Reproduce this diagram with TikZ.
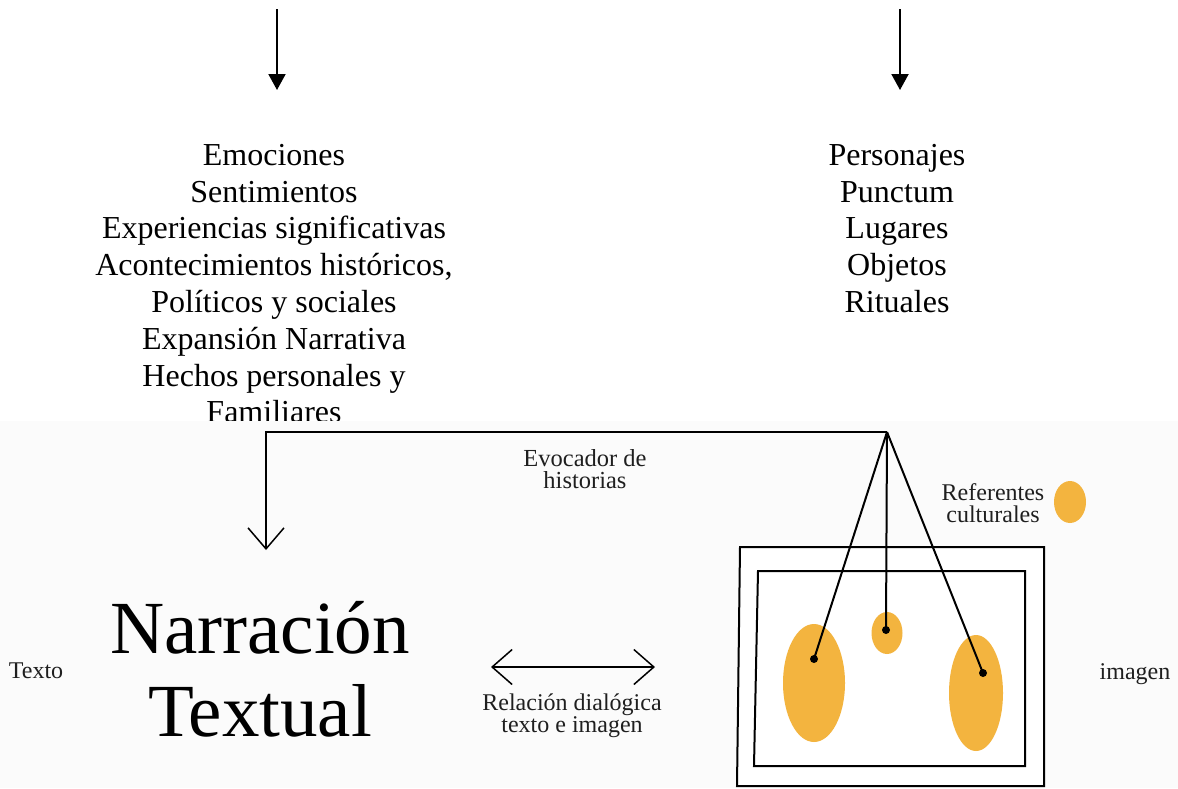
\documentclass[tikz,border=0pt]{standalone}
\usepackage{fontspec}
\setmainfont{Liberation Serif}
\usetikzlibrary{arrows.meta}
\usetikzlibrary{shapes.geometric}

\definecolor{refyellow}{RGB}{243,180,63}
\definecolor{panelgray}{RGB}{251,251,251}

\tikzset{
  listtext/.style={align=center, inner sep=0, anchor=north, font=\fontsize{32}{36.8}\selectfont},
  smalltext/.style={align=center, inner sep=0, text=black!88, font=\fontsize{24}{22}\selectfont},
  referent/.style={ellipse, fill=refyellow, inner sep=0},
  pin/.style={circle, fill=black, inner sep=0, minimum size=8pt},
  openhead/.style={-{Straight Barb[length=21pt,width=36pt]}},
}

\begin{document}
\begin{tikzpicture}[x=1pt, y=-1pt]
\useasboundingbox (0,0) rectangle (1178,788);
% top arrows
\coordinate (startL) at (277,9);
\coordinate (endL) at (277,90);
\coordinate (startR) at (900,9);
\coordinate (endR) at (900,90);
\draw[line width=2pt, -{Triangle[length=16pt,width=17pt]}] (startL) -- (endL);
\draw[line width=2pt, -{Triangle[length=16pt,width=17pt]}] (startR) -- (endR);

\node[listtext] (vivencias) at (274,144) {Emociones\\Sentimientos\\Experiencias significativas\\Acontecimientos históricos,\\Políticos y sociales\\Expansión Narrativa\\Hechos personales y\\Familiares};
\node[listtext] (elementos) at (897,144) {Personajes\\Punctum\\Lugares\\Objetos\\Rituales};

% lower panel
\fill[panelgray] (0,421) rectangle (1178,788);

% picture frames
\filldraw[fill=white, line width=2pt] (740,547) -- (1044,547) -- (1044,786) -- (737,786) -- cycle;
\draw[line width=2pt] (758,571) -- (1025,571) -- (1025,766) -- (754,766) -- cycle;

\node[referent, minimum width=62pt, minimum height=118pt] (refA) at (814,683) {};
\node[referent, minimum width=31pt, minimum height=42pt] (refB) at (887,633) {};
\node[referent, minimum width=54pt, minimum height=116pt] (refC) at (976,693) {};
\node[referent, minimum width=32pt, minimum height=42pt] (refKey) at (1070,502) {};

\node[pin] (dotA) at (814,659) {};
\node[pin] (dotB) at (886,630) {};
\node[pin] (dotC) at (983,673) {};

\coordinate (apex) at (887,432);
\coordinate (corner) at (266,432);
\coordinate (vtip) at (266,550);
\draw[line width=1.5pt, openhead] (apex) -- (corner) -- (vtip);
\draw[line width=2pt] (apex) -- (dotA.center);
\draw[line width=2pt] (apex) -- (dotB.center);
\draw[line width=2pt] (apex) -- (dotC.center);

% dialogic relation
\coordinate (relL) at (491,667);
\coordinate (relR) at (655,667);
\draw[line width=1.5pt, {Straight Barb[length=20pt,width=35pt]}-{Straight Barb[length=20pt,width=35pt]}] (relL) -- (relR);

\node[align=center, inner sep=0, anchor=north, font=\fontsize{75}{83}\selectfont] (narracion) at (260,601) {Narración\\Textual};
\node[smalltext, anchor=north, font=\fontsize{24.5}{22.5}\selectfont] (evocador) at (585,449) {Evocador de\\historias};
\node[smalltext, anchor=north] (referentes) at (993,483) {Referentes\\culturales};
\node[smalltext, anchor=north] (relacion) at (572,694) {Relación dialógica\\texto e imagen};
\node[smalltext, anchor=base] (texto) at (36,678) {Texto};
\node[smalltext, anchor=base] (imagen) at (1135,679) {imagen};
\end{tikzpicture}
\end{document}
